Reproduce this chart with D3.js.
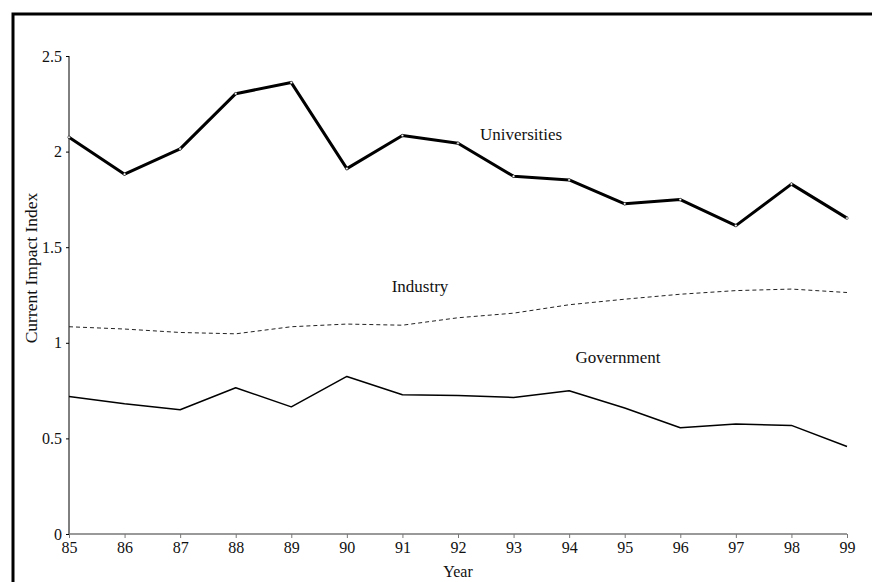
<!DOCTYPE html>
<html>
<head>
<meta charset="utf-8">
<script src="https://cdn.jsdelivr.net/npm/d3@7"></script>
<style>
  body { margin: 0; background: #fff; }
  svg { display: block; }
  text { font-family: "Liberation Serif", "Times New Roman", serif; fill: #111; }
</style>
</head>
<body>
<div id="chart"></div>
<script>
// Chart data
const years = [85, 86, 87, 88, 89, 90, 91, 92, 93, 94, 95, 96, 97, 98, 99];
const universities = [2.075, 1.882, 2.014, 2.303, 2.361, 1.911, 2.084, 2.044, 1.871, 1.852, 1.727, 1.749, 1.613, 1.830, 1.652];
const industry = [1.084, 1.072, 1.054, 1.047, 1.084, 1.098, 1.092, 1.131, 1.155, 1.199, 1.228, 1.254, 1.273, 1.281, 1.263];
const government = [0.719, 0.681, 0.650, 0.765, 0.665, 0.824, 0.728, 0.725, 0.714, 0.749, 0.659, 0.556, 0.575, 0.568, 0.458];
const yTicks = [0, 0.5, 1, 1.5, 2, 2.5];

const width = 872;
const height = 582;
const margin = {left: 69, right: 25, top: 56, bottom: 48};

const svg = d3.select("#chart")
  .append("svg")
  .attr("width", width)
  .attr("height", height);

// outer frame (right and bottom edges fall off the picture)
svg.append("rect")
  .attr("x", 13)
  .attr("y", 14)
  .attr("width", 880)
  .attr("height", 600)
  .attr("fill", "none")
  .attr("stroke", "#000")
  .attr("stroke-width", 3);

const xScale = d3.scaleLinear()
  .domain([85, 99])
  .range([margin.left, width - margin.right]);

const yScale = d3.scaleLinear()
  .domain([0, 2.5])
  .range([height - margin.bottom, margin.top]);

// y axis
const yAxis = svg.append("g")
  .attr("transform", `translate(${margin.left},0)`)
  .call(d3.axisLeft(yScale).tickValues(yTicks).tickFormat(d3.format("")).tickSize(3).tickPadding(4));
yAxis.select(".domain").attr("stroke", "#000").attr("d", `M0,${yScale(2.5)}V${yScale(0)}`);
yAxis.selectAll("text").attr("font-size", "16px").attr("font-family", "Liberation Serif");

// x axis
const xAxis = svg.append("g")
  .attr("transform", `translate(0,${yScale(0)})`)
  .call(d3.axisBottom(xScale).tickValues(years).tickFormat(d => d).tickSize(4).tickPadding(4));
xAxis.select(".domain").attr("stroke", "#777").attr("stroke-width", 1.6).attr("d", `M${xScale(85)},0H${xScale(99)}`);
xAxis.selectAll(".tick line").attr("stroke", "#777");
xAxis.selectAll("text").attr("font-size", "16px").attr("font-family", "Liberation Serif");

// axis titles
svg.append("text")
  .attr("x", xScale(92))
  .attr("y", 577)
  .attr("text-anchor", "middle")
  .attr("font-size", "16px")
  .text("Year");

svg.append("text")
  .attr("transform", `translate(37,268) rotate(-90)`)
  .attr("text-anchor", "middle")
  .attr("font-size", "17.5px")
  .text("Current Impact Index");

const line = d3.line()
  .x((d, i) => xScale(years[i]))
  .y(d => yScale(d));

// Government
svg.append("path")
  .datum(government)
  .attr("fill", "none")
  .attr("stroke", "#000")
  .attr("stroke-width", 1.5)
  .attr("stroke-linejoin", "round")
  .attr("d", line);

// Industry (dashed)
svg.append("path")
  .datum(industry)
  .attr("fill", "none")
  .attr("stroke", "#222")
  .attr("stroke-width", 1)
  .attr("stroke-dasharray", "4,3")
  .attr("d", line);

// Universities (thick with small markers)
svg.append("path")
  .datum(universities)
  .attr("fill", "none")
  .attr("stroke", "#000")
  .attr("stroke-width", 3)
  .attr("stroke-linejoin", "round")
  .attr("d", line);

svg.selectAll(".dot")
  .data(universities)
  .enter()
  .append("circle")
  .attr("class", "dot")
  .attr("cx", (d, i) => xScale(years[i]))
  .attr("cy", d => yScale(d))
  .attr("r", 1.3)
  .attr("fill", "#fff")
  .attr("stroke", "#000")
  .attr("stroke-width", 0.5);

// series labels
svg.append("text")
  .attr("x", 521).attr("y", 140)
  .attr("text-anchor", "middle")
  .attr("font-size", "17px")
  .text("Universities");

svg.append("text")
  .attr("x", 420).attr("y", 292)
  .attr("text-anchor", "middle")
  .attr("font-size", "17px")
  .text("Industry");

svg.append("text")
  .attr("x", 618).attr("y", 363)
  .attr("text-anchor", "middle")
  .attr("font-size", "17px")
  .text("Government");
</script>
</body>
</html>
